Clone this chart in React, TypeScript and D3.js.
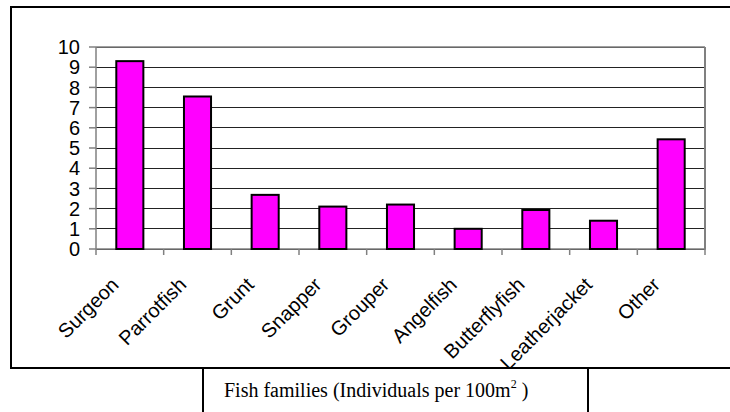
import React from "react"
import * as d3 from "d3"

// fish families and densities (individuals per 100m2)
const families = ["Surgeon", "Parrotfish", "Grunt", "Snapper", "Grouper", "Angelfish", "Butterflyfish", "Leatherjacket", "Other"]
const densities = [9.3, 7.55, 2.68, 2.1, 2.2, 1.0, 1.93, 1.4, 5.43]
const yTicks = [0, 1, 2, 3, 4, 5, 6, 7, 8, 9, 10]

const W = 730
const H = 412
const plot = { left: 96, right: 705, top: 47, bottom: 249 }

const App = () => {
  const x = d3.scaleBand().domain(families).range([plot.left, plot.right]).paddingInner(0.6).paddingOuter(0.3)
  const band = d3.scaleBand().domain(families).range([plot.left, plot.right])
  const y = d3.scaleLinear().domain([0, 10]).range([plot.bottom, plot.top])

  return (
    <div style={{ position: "absolute", left: 0, top: 0 }}>
      <svg width={W} height={H} style={{ display: "block", fontFamily: "Arial, 'Liberation Sans', sans-serif" }}>
        <rect x={0} y={0} width={W} height={H} fill="#fff" />
        {/* outer frame */}
        <rect x={11} y={7} width={740} height={361} fill="none" stroke="#000" strokeWidth={2} />

        {/* gridlines */}
        {yTicks.map((t) => (
          <line key={"g" + t} x1={plot.left} x2={plot.right} y1={y(t)} y2={y(t)} stroke="#222" strokeWidth={1} shapeRendering="crispEdges" />
        ))}

        {/* plot border */}
        <line x1={plot.left} x2={plot.right} y1={plot.top} y2={plot.top} stroke="#808080" strokeWidth={1.5} />
        <line x1={plot.right} x2={plot.right} y1={plot.top} y2={plot.bottom} stroke="#808080" strokeWidth={2} />
        <line x1={plot.left} x2={plot.left} y1={plot.top} y2={plot.bottom} stroke="#808080" strokeWidth={1.5} />
        <line x1={plot.left} x2={plot.right + 1} y1={plot.bottom} y2={plot.bottom} stroke="#808080" strokeWidth={1.5} />

        {/* y ticks and labels */}
        {yTicks.map((t) => (
          <g key={"y" + t}>
            <line x1={plot.left - 7} x2={plot.left} y1={y(t)} y2={y(t)} stroke="#808080" strokeWidth={1.5} />
            <text x={80} y={y(t)} dy="0.36em" textAnchor="end" fontSize={20} fill="#000">
              {t}
            </text>
          </g>
        ))}

        {/* x ticks */}
        {[...families.map((f) => band(f) as number), plot.right].map((px, i) => (
          <line key={"xt" + i} x1={px} x2={px} y1={plot.bottom} y2={plot.bottom + 6} stroke="#808080" strokeWidth={1.5} />
        ))}

        {/* bars */}
        {families.map((f, i) => (
          <rect
            key={f}
            x={x(f)}
            y={y(densities[i])}
            width={x.bandwidth()}
            height={plot.bottom - y(densities[i])}
            fill="#ff00ff"
            stroke="#000"
            strokeWidth={2}
          />
        ))}

        {/* category labels */}
        {families.map((f) => {
          const cx = (band(f) as number) + band.bandwidth() / 2 - 10
          const cy = plot.bottom + 37
          return (
            <text key={"l" + f} x={cx} y={cy} textAnchor="end" fontSize={20} fill="#000" transform={`rotate(-45,${cx},${cy})`}>
              {f}
            </text>
          )
        })}

        {/* axis title box */}
        <rect x={203} y={368} width={385} height={60} fill="#fff" stroke="#000" strokeWidth={2} />
        <text x={224} y={397} fontSize={20} fontFamily="'Liberation Serif', 'Times New Roman', serif" fill="#000">
          Fish families (Individuals per 100m
          <tspan fontSize={12} dy={-9}>2</tspan>
          <tspan dy={9}> )</tspan>
        </text>
      </svg>
    </div>
  )
}

export default App
